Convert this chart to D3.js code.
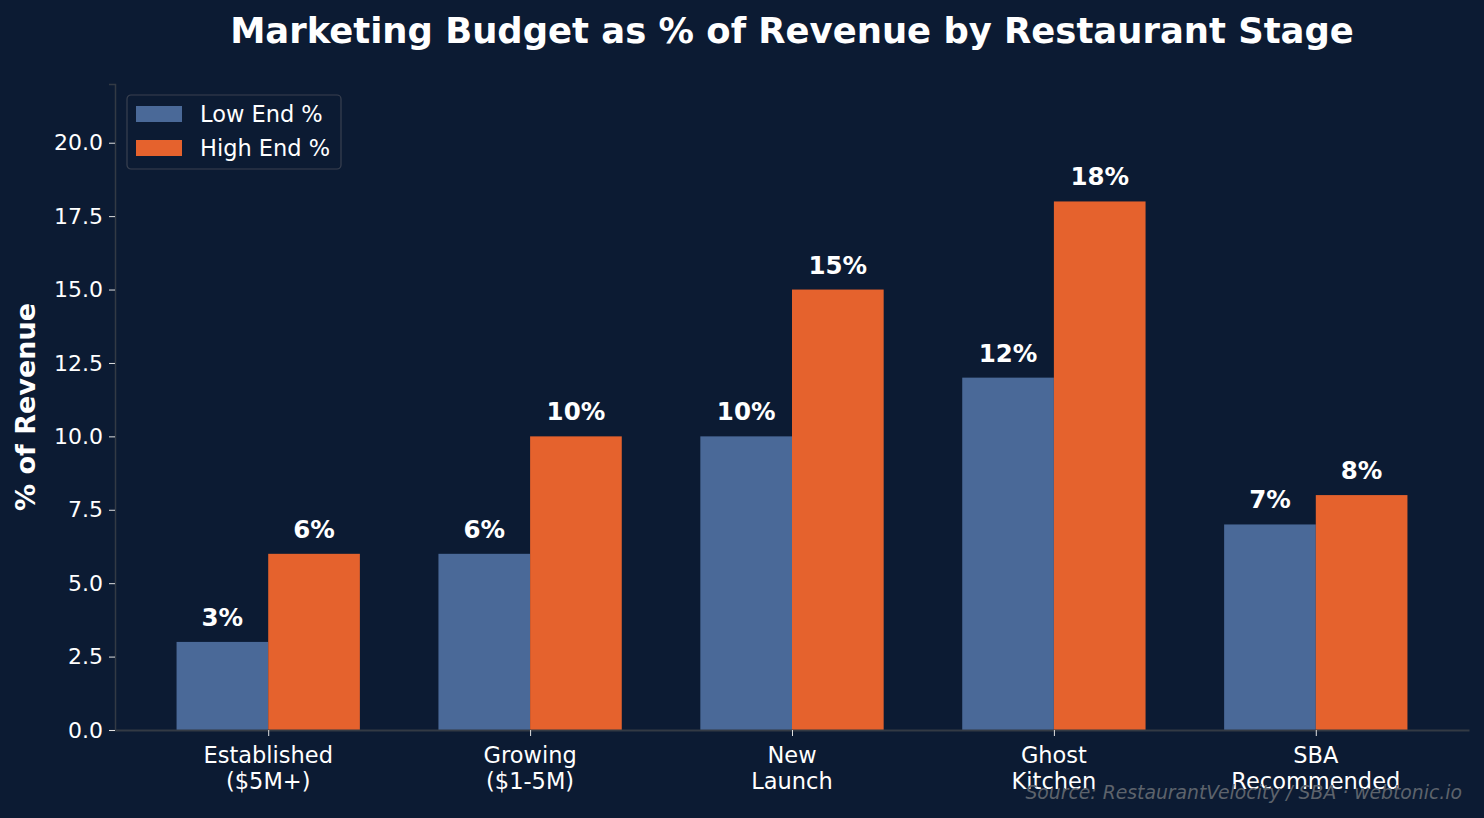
<!DOCTYPE html>
<html>
<head>
<meta charset="utf-8">
<script src="https://cdn.jsdelivr.net/npm/d3@7"></script>
<style>
  body { margin: 0; background: #0c1b33; }
  text { font-family: "DejaVu Sans", sans-serif; }
</style>
</head>
<body>
<svg id="chart"></svg>
<script>
const categories = ["Established\n($5M+)", "Growing\n($1-5M)", "New\nLaunch", "Ghost\nKitchen", "SBA\nRecommended"];
const lowEnd = [3, 6, 10, 12, 7];
const highEnd = [6, 10, 15, 18, 8];
const seriesNames = ["Low End %", "High End %"];
const yTicks = [0, 2.5, 5, 7.5, 10, 12.5, 15, 17.5, 20];

const width = 1484, height = 818;
const margin = {left: 115, right: 15, top: 84, bottom: 88};
const colors = ['#4a6998', '#e5622d'];
const barW = 0.35;

const svg = d3.select('#chart')
    .attr('width', width)
    .attr('height', height)
    .style('background', '#0c1b33');

const x = d3.scaleLinear()
    .domain([-0.585, categories.length - 1 + 0.585])
    .range([margin.left, width - margin.right]);

const y = d3.scaleLinear()
    .domain([0, 22])
    .range([height - margin.bottom, margin.top]);

// bars
const series = [lowEnd, highEnd];
series.forEach((vals, s) => {
    const off = s === 0 ? -barW : 0;
    svg.append('g').selectAll('rect')
        .data(vals)
        .join('rect')
        .attr('x', (d, i) => x(i + off))
        .attr('y', d => y(d))
        .attr('width', x(barW) - x(0))
        .attr('height', d => y(0) - y(d))
        .attr('fill', colors[s]);
    svg.append('g').selectAll('text')
        .data(vals)
        .join('text')
        .attr('x', (d, i) => x(i + off + barW / 2))
        .attr('y', d => y(d) - 16)
        .attr('text-anchor', 'middle')
        .attr('fill', '#ffffff')
        .attr('font-weight', 'bold')
        .attr('font-size', 24.5)
        .text(d => d + '%');
});

// axes
const yAxis = d3.axisLeft(y)
    .tickValues(yTicks)
    .tickFormat(d3.format('.1f'))
    .tickSize(6)
    .tickPadding(6);
const gy = svg.append('g')
    .attr('transform', `translate(${margin.left},0)`)
    .call(yAxis);
gy.select('.domain').attr('stroke', '#333a44').attr('stroke-width', 1.5);
gy.selectAll('.tick line').attr('stroke', '#e0e0e0');
gy.selectAll('.tick text').attr('fill', '#ffffff').attr('font-size', 22)
    .style('font-family', '"DejaVu Sans", sans-serif');

const xAxis = d3.axisBottom(x)
    .tickValues(d3.range(categories.length))
    .tickFormat('')
    .tickSize(6)
    .tickSizeOuter(0);
const gx = svg.append('g')
    .attr('transform', `translate(0,${y(0)})`)
    .call(xAxis);
gx.select('.domain').attr('stroke', '#333a44').attr('stroke-width', 2);
gx.selectAll('.tick line').attr('stroke', '#e0e0e0');

categories.forEach((c, i) => {
    const t = svg.append('text')
        .attr('x', x(i))
        .attr('y', y(0) + 33)
        .attr('text-anchor', 'middle')
        .attr('fill', '#ffffff')
        .attr('font-size', 22.5);
    c.split('\n').forEach((line, j) => {
        t.append('tspan')
            .attr('x', x(i))
            .attr('dy', j === 0 ? 0 : 26)
            .text(line);
    });
});

// y label
svg.append('text')
    .attr('transform', `translate(35,${(y(0) + y(22)) / 2}) rotate(-90)`)
    .attr('text-anchor', 'middle')
    .attr('fill', '#ffffff')
    .attr('font-weight', 'bold')
    .attr('font-size', 27)
    .text('% of Revenue');

// title
svg.append('text')
    .attr('x', (margin.left + width - margin.right) / 2)
    .attr('y', 43)
    .attr('text-anchor', 'middle')
    .attr('fill', '#ffffff')
    .attr('font-weight', 'bold')
    .attr('font-size', 35.4)
    .text('Marketing Budget as % of Revenue by Restaurant Stage');

// legend
const legend = svg.append('g').attr('transform', 'translate(127,95)');
legend.append('rect')
    .attr('width', 214).attr('height', 74)
    .attr('rx', 4)
    .attr('fill', '#0c1b33')
    .attr('stroke', '#3a4150')
    .attr('stroke-width', 1.2);
seriesNames.forEach((n, i) => {
    legend.append('rect')
        .attr('x', 9).attr('y', 11 + i * 34)
        .attr('width', 46).attr('height', 16)
        .attr('fill', colors[i]);
    legend.append('text')
        .attr('x', 73).attr('y', 27 + i * 34)
        .attr('fill', '#ffffff')
        .attr('font-size', 22.5)
        .text(n);
});

// source
svg.append('text')
    .attr('x', 1462)
    .attr('y', 799)
    .attr('text-anchor', 'end')
    .attr('fill', '#5d636c')
    .attr('font-style', 'italic')
    .attr('font-size', 18.8)
    .text('Source: RestaurantVelocity / SBA · webtonic.io');
</script>
</body>
</html>
